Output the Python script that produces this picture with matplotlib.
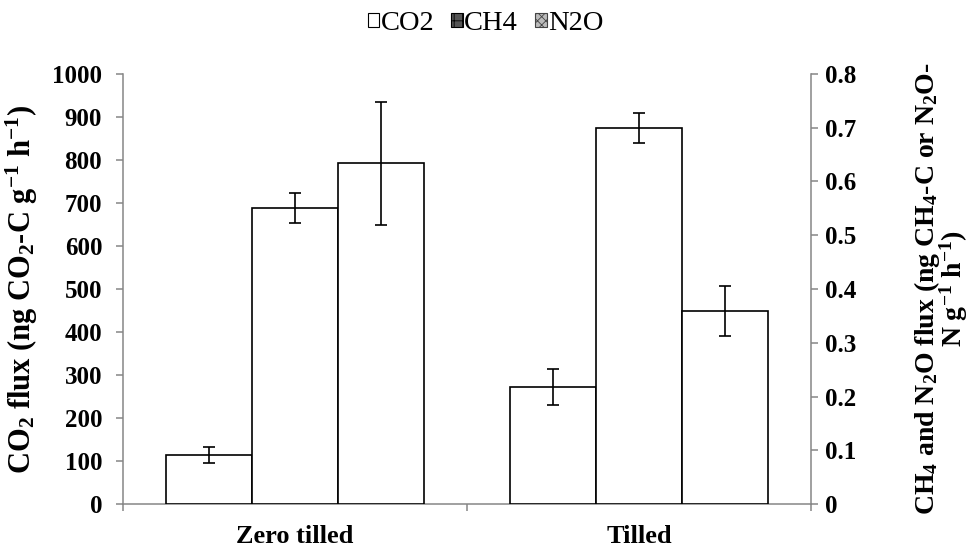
import numpy as np
import matplotlib
matplotlib.use("Agg")
import matplotlib.pyplot as plt
from matplotlib.patches import Patch

plt.rcParams['font.family'] = ['Liberation Serif', 'DejaVu Serif']
plt.rcParams['mathtext.fontset'] = 'custom'
plt.rcParams['mathtext.rm'] = 'Liberation Serif:bold'
plt.rcParams['mathtext.it'] = 'Liberation Serif:bold'
plt.rcParams['mathtext.bf'] = 'Liberation Serif:bold'
plt.rcParams['hatch.linewidth'] = 0.6

# Dane
kategorie = ['Zero tilled', 'Tilled']
co2 = [114, 272]          # lewa oś
co2_err = [18, 42]
ch4 = [0.550, 0.699]      # prawa oś
ch4_err = [0.028, 0.028]
n2o = [0.634, 0.359]      # prawa oś
n2o_err = [0.114, 0.047]

szary = '#868686'
x = np.arange(len(kategorie))
w = 0.25

fig = plt.figure(figsize=(9.71, 5.49), dpi=100)
ax = fig.add_axes([123/971, 45/549, 688/971, 430/549])
ax2 = ax.twinx()

eb = dict(ecolor='black', elinewidth=1.2, capsize=4.5, capthick=1.2)
ax.bar(x - w, co2, w, yerr=co2_err, color='white', edgecolor='black',
       linewidth=1.2, error_kw=eb, zorder=3)
ax2.bar(x, ch4, w, yerr=ch4_err, color='white', edgecolor='black',
        linewidth=1.2, error_kw=eb, zorder=3)
ax2.bar(x + w, n2o, w, yerr=n2o_err, color='white', edgecolor='black',
        linewidth=1.2, error_kw=eb, zorder=3)

ax.set_xlim(-0.5, 1.5)
ax.set_ylim(0, 1000)
ax2.set_ylim(0, 0.8)
ax.set_yticks(np.arange(0, 1001, 100))
ax2.set_yticks(np.arange(0, 0.81, 0.1))
ax2.set_yticklabels(['0'] + ['%.1f' % v for v in np.arange(0.1, 0.81, 0.1)])

# osie i znaczniki
ax.set_xticks([-0.5, 0.5, 1.5])
ax.set_xticklabels([])
ax.set_xticks(x, minor=True)
ax.set_xticklabels(kategorie, minor=True, fontsize=19, fontweight='bold')
ax.tick_params(axis='x', which='minor', length=0, pad=15)
ax.tick_params(axis='x', which='major', length=5, width=1.1, color=szary, direction='out')
ax.tick_params(axis='y', length=5, width=1.1, color=szary, direction='out',
               labelsize=18, pad=10)
ax2.tick_params(axis='y', length=5, width=1.1, color=szary, direction='out',
                labelsize=18, pad=5)
for a in (ax, ax2):
    a.spines['top'].set_visible(False)
    for s in ('left', 'right', 'bottom'):
        a.spines[s].set_color(szary)
        a.spines[s].set_linewidth(1.1)
    for lab in a.get_yticklabels():
        lab.set_fontweight('bold')
ax.spines['right'].set_visible(False)
ax2.spines['left'].set_visible(False)
ax2.spines['bottom'].set_visible(False)

ax.set_ylabel(r'CO$_2$ flux (ng CO$_2$-C g$^{-1}$ h$^{-1}$)',
              fontsize=22, fontweight='bold')
ax.yaxis.set_label_coords(-0.12, 0.5)
ax2.set_ylabel('CH$_4$ and N$_2$O flux (ng CH$_4$-C or N$_2$O-\n'
               r'N g$^{-1}$ h$^{-1}$)', fontsize=20, fontweight='bold',
               rotation=90, multialignment='center', linespacing=0.8)
ax2.yaxis.set_label_coords(1.147, 0.5)

# legenda
uchwyty = [Patch(facecolor='white', edgecolor='black', linewidth=0.8),
           Patch(facecolor='#555555', edgecolor='black', hatch='++', linewidth=0.8),
           Patch(facecolor='#bbbbbb', edgecolor='#444444', hatch='xxxx', linewidth=0.8)]
fig.legend(uchwyty, ['CO2', 'CH4', 'N2O'], loc='upper center',
           bbox_to_anchor=(0.5, 1.0), ncol=3, frameon=False, fontsize=20.5,
           handlelength=0.4, handleheight=0.4, handletextpad=0.05,
           columnspacing=0.6, borderaxespad=0.0)

fig.savefig('out.png', dpi=100)
